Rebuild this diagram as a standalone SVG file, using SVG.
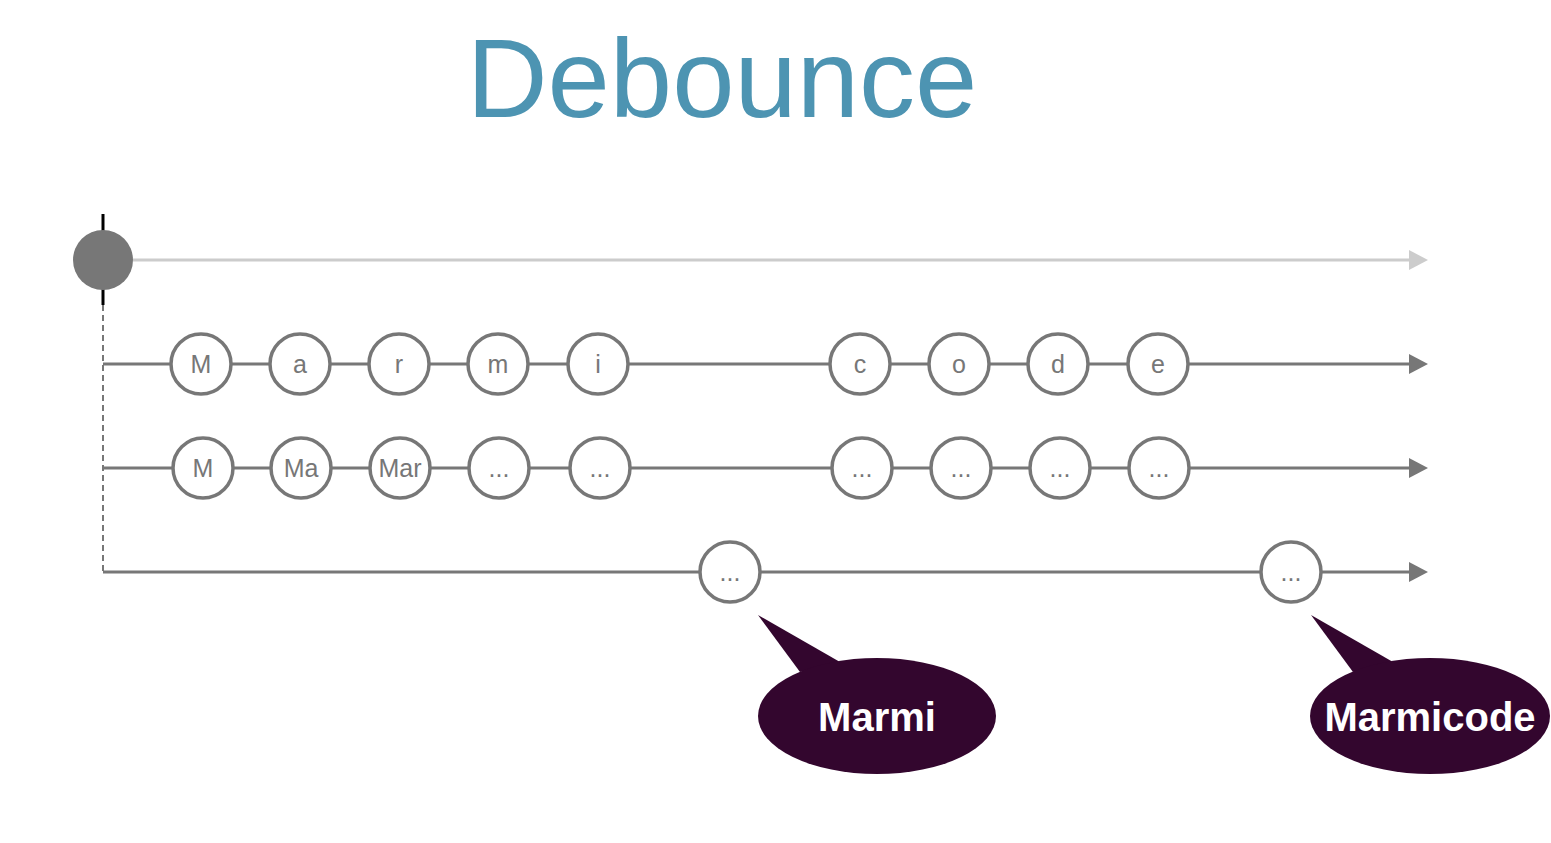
<svg xmlns="http://www.w3.org/2000/svg" width="1551" height="843" viewBox="0 0 1551 843">
<style>
.ln{stroke:#777;stroke-width:3;fill:none}
.nd{fill:#fff;stroke:#777;stroke-width:3.5}
.lb{font-family:"Liberation Sans",Arial,sans-serif;font-size:25px;fill:#777;text-anchor:middle}
.bb{fill:#33062e}
.bt{font-family:"Liberation Sans",Arial,sans-serif;font-size:40px;font-weight:bold;fill:#fff;text-anchor:middle}
</style>
<defs>
<marker id="ah" markerUnits="userSpaceOnUse" markerWidth="20" markerHeight="20" refX="11" refY="10" orient="auto" viewBox="0 0 20 20"><path d="M0,0 L19,10 L0,20 Z" fill="#777"/></marker>
<marker id="ahl" markerUnits="userSpaceOnUse" markerWidth="20" markerHeight="20" refX="11" refY="10" orient="auto" viewBox="0 0 20 20"><path d="M0,0 L19,10 L0,20 Z" fill="#ccc"/></marker>
</defs>
<rect width="1551" height="843" fill="#fff"/>
<text x="722" y="117" font-family="'Liberation Sans',Arial,sans-serif" font-size="112" fill="#4d94b2" text-anchor="middle">Debounce</text>
<g id="connectors">
<line x1="133" y1="260" x2="1420" y2="260" stroke="#ccc" stroke-width="3" marker-end="url(#ahl)"/>
<line x1="103" y1="305" x2="103" y2="572" stroke="#777" stroke-width="2" stroke-dasharray="6,4"/>
<line class="ln" x1="103" y1="364" x2="1420" y2="364" marker-end="url(#ah)"/>
<line class="ln" x1="103" y1="468" x2="1420" y2="468" marker-end="url(#ah)"/>
<line class="ln" x1="103" y1="572" x2="1420" y2="572" marker-end="url(#ah)"/>
</g>
<g id="start">
<line x1="103" y1="214" x2="103" y2="305" stroke="#000" stroke-width="3"/>
<circle cx="103" cy="260" r="30" fill="#777"/>
</g>
<g id="n1-M"><circle class="nd" cx="201" cy="364" r="30"/><text class="lb" x="201" y="373">M</text></g>
<g id="n1-a"><circle class="nd" cx="300" cy="364" r="30"/><text class="lb" x="300" y="373">a</text></g>
<g id="n1-r"><circle class="nd" cx="399" cy="364" r="30"/><text class="lb" x="399" y="373">r</text></g>
<g id="n1-m"><circle class="nd" cx="498" cy="364" r="30"/><text class="lb" x="498" y="373">m</text></g>
<g id="n1-i"><circle class="nd" cx="598" cy="364" r="30"/><text class="lb" x="598" y="373">i</text></g>
<g id="n1-c"><circle class="nd" cx="860" cy="364" r="30"/><text class="lb" x="860" y="373">c</text></g>
<g id="n1-o"><circle class="nd" cx="959" cy="364" r="30"/><text class="lb" x="959" y="373">o</text></g>
<g id="n1-d"><circle class="nd" cx="1058" cy="364" r="30"/><text class="lb" x="1058" y="373">d</text></g>
<g id="n1-e"><circle class="nd" cx="1158" cy="364" r="30"/><text class="lb" x="1158" y="373">e</text></g>
<g id="n2-1"><circle class="nd" cx="203" cy="468" r="30"/><text class="lb" x="203" y="477">M</text></g>
<g id="n2-2"><circle class="nd" cx="301" cy="468" r="30"/><text class="lb" x="301" y="477">Ma</text></g>
<g id="n2-3"><circle class="nd" cx="400" cy="468" r="30"/><text class="lb" x="400" y="477">Mar</text></g>
<g id="n2-4"><circle class="nd" cx="499" cy="468" r="30"/><text class="lb" x="499" y="477">...</text></g>
<g id="n2-5"><circle class="nd" cx="600" cy="468" r="30"/><text class="lb" x="600" y="477">...</text></g>
<g id="n2-6"><circle class="nd" cx="862" cy="468" r="30"/><text class="lb" x="862" y="477">...</text></g>
<g id="n2-7"><circle class="nd" cx="961" cy="468" r="30"/><text class="lb" x="961" y="477">...</text></g>
<g id="n2-8"><circle class="nd" cx="1060" cy="468" r="30"/><text class="lb" x="1060" y="477">...</text></g>
<g id="n2-9"><circle class="nd" cx="1159" cy="468" r="30"/><text class="lb" x="1159" y="477">...</text></g>
<g id="n3-1"><circle class="nd" cx="730" cy="572" r="30"/><text class="lb" x="730" y="581">...</text></g>
<g id="n3-2"><circle class="nd" cx="1291" cy="572" r="30"/><text class="lb" x="1291" y="581">...</text></g>
<g id="bubble-1">
<path class="bb" d="M758,615 L840,662 L800,672 Z"/>
<ellipse class="bb" cx="877" cy="716" rx="119" ry="58"/>
<text class="bt" x="877" y="731">Marmi</text>
</g>
<g id="bubble-2">
<path class="bb" d="M1311,615 L1393,662 L1353,672 Z"/>
<ellipse class="bb" cx="1430" cy="716" rx="120" ry="58"/>
<text class="bt" x="1430" y="731">Marmicode</text>
</g>
</svg>
